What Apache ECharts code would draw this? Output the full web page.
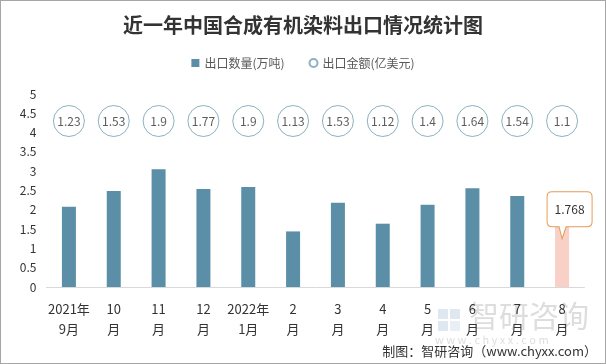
<!DOCTYPE html>
<html>
<head>
<meta charset="utf-8">
<script src="https://cdn.jsdelivr.net/npm/echarts@6/dist/echarts.min.js"></script>
<style>
html,body{margin:0;padding:0;background:#fff;}
#chart{width:606px;height:364px;box-sizing:border-box;border:1px solid #a6a6a6;}
</style>
</head>
<body>
<div id="chart"></div>
<script>
const categories = ['2021年\n9月','10\n月','11\n月','12\n月','2022年\n1月','2\n月','3\n月','4\n月','5\n月','6\n月','7\n月','8\n月'];
const quantity = [2.08, 2.49, 3.05, 2.54, 2.59, 1.44, 2.18, 1.64, 2.13, 2.56, 2.36, 1.768];
const amount = [1.23, 1.53, 1.9, 1.77, 1.9, 1.13, 1.53, 1.12, 1.4, 1.64, 1.54, 1.1];
const yTicks = { min: 0, max: 5, interval: 0.5 };
const circleLevel = 4.3;

const FONT = '"Noto Sans CJK SC", "Microsoft YaHei", sans-serif';
const barColor = '#5B8FA7';
const lastColor = '#F8D0C6';

const chart = echarts.init(document.getElementById('chart'), null, {renderer: 'canvas'});
const lastIdx = quantity.length - 1;

const calloutPath = 'path://M5,0 L40,0 Q45,0 45,5 L45,30 Q45,35 40,35 L19,35 L15,47 L12,35 L5,35 Q0,35 0,30 L0,5 Q0,0 5,0 Z';

chart.setOption({
  animation: false,
  textStyle: {fontFamily: FONT},
  title: {
    text: '近一年中国合成有机染料出口情况统计图',
    left: 'center', top: 9,
    textStyle: {fontFamily: FONT, fontSize: 20, fontWeight: 'bold', color: '#333'}
  },
  legend: {
    top: 51, left: 'center',
    itemWidth: 8, itemHeight: 8, itemGap: 24,
    textStyle: {fontFamily: FONT, fontSize: 12, color: '#595959'},
    data: [
      {name: '出口数量(万吨)', icon: 'rect'},
      {name: '出口金额(亿美元)', icon: 'circle'}
    ]
  },
  grid: {left: 45.5, right: 20.5, top: 93, bottom: 76},
  xAxis: {
    type: 'category',
    data: categories,
    axisLine: {lineStyle: {color: '#d9d9d9', width: 1}},
    axisTick: {show: false},
    axisLabel: {interval: 0, color: '#333', fontSize: 13, lineHeight: 20, margin: 12, fontFamily: FONT}
  },
  yAxis: {
    type: 'value',
    min: yTicks.min, max: yTicks.max, interval: yTicks.interval,
    axisLine: {show: false},
    axisTick: {show: false},
    splitLine: {show: false},
    axisLabel: {color: '#333', fontSize: 12, margin: 10, fontFamily: FONT}
  },
  series: [
    {
      name: '出口数量(万吨)',
      type: 'bar',
      barWidth: 14,
      itemStyle: {color: barColor},
      data: quantity.map((v, i) => i === lastIdx ? {value: v, itemStyle: {color: lastColor}} : v),
      markPoint: {
        symbol: calloutPath,
        symbolSize: [45, 47],
        symbolOffset: [7.5, -3.5],
        symbolKeepAspect: false,
        itemStyle: {color: '#fff', borderColor: '#E39B57', borderWidth: 1},
        label: {
          show: true, position: 'inside', offset: [0, -6],
          color: '#333', fontSize: 12, fontFamily: FONT,
          formatter: () => String(quantity[lastIdx])
        },
        data: [{coord: [lastIdx, quantity[lastIdx]]}]
      }
    },
    {
      name: '出口金额(亿美元)',
      type: 'scatter',
      symbol: 'circle',
      symbolSize: 31,
      itemStyle: {color: '#fff', borderColor: '#6F9DB2', borderWidth: 1},
      label: {
        show: true, position: 'inside', color: '#333', fontSize: 12, fontFamily: FONT,
        formatter: p => String(amount[p.dataIndex])
      },
      data: amount.map((a, i) => [i, circleLevel]),
      z: 3
    }
  ],
  graphic: [
    {type: 'rect', left: 437, top: 308, shape: {width: 10, height: 10}, style: {fill: 'rgba(150,175,210,0.3)'}, silent: true},
    {type: 'rect', left: 449, top: 308, shape: {width: 10, height: 10}, style: {fill: 'rgba(150,175,210,0.3)'}, silent: true},
    {type: 'rect', left: 437, top: 320, shape: {width: 10, height: 10}, style: {fill: 'rgba(150,175,210,0.3)'}, silent: true},
    {type: 'rect', left: 449, top: 320, shape: {width: 10, height: 10}, style: {fill: 'rgba(150,175,210,0.2)'}, silent: true},
    {type: 'text', left: 468, top: 300, silent: true,
      style: {text: '智研咨询', fontSize: 30, fontFamily: FONT, fill: 'rgba(170,170,170,0.4)'}},
    {type: 'text', left: 434, top: 333, silent: true,
      style: {text: 'w w w . c h y x x . c o m', fontSize: 11, fontFamily: FONT, fill: 'rgba(170,170,170,0.4)'}},
    {type: 'text', right: 8, top: 344, silent: true,
      style: {text: '制图：智研咨询（www.chyxx.com）', fontSize: 13, fontFamily: FONT, fill: '#333'}}
  ]
});
</script>
</body>
</html>
